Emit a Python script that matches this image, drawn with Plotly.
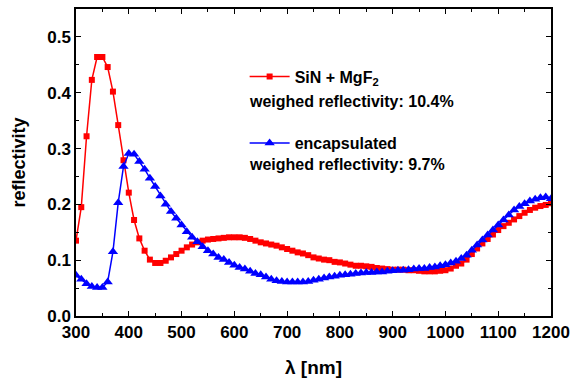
import plotly.graph_objects as go

wavelength = list(range(300, 1201, 10))

sin_mgf2 = [
    0.135, 0.195, 0.322, 0.423, 0.464, 0.464, 0.446, 0.402, 0.342, 0.279,
    0.221, 0.172, 0.139, 0.117, 0.101, 0.095, 0.095, 0.099, 0.105, 0.111,
    0.117, 0.123, 0.128, 0.132, 0.135, 0.137, 0.138, 0.139, 0.140, 0.141,
    0.141, 0.141, 0.140, 0.138, 0.135, 0.132, 0.130, 0.128, 0.126, 0.123,
    0.120, 0.117, 0.114, 0.112, 0.109, 0.105, 0.103, 0.101, 0.100, 0.097,
    0.096, 0.094, 0.092, 0.090, 0.090, 0.089, 0.088, 0.086, 0.085, 0.084,
    0.083, 0.083, 0.083, 0.082, 0.082, 0.081, 0.080, 0.080, 0.080, 0.081,
    0.082, 0.085, 0.090, 0.094, 0.101, 0.111, 0.121, 0.130, 0.138, 0.146,
    0.154, 0.161, 0.167, 0.173, 0.179, 0.185, 0.190, 0.194, 0.197, 0.199,
    0.202,
]

encapsulated = [
    0.073, 0.066, 0.058, 0.053, 0.051, 0.051, 0.061, 0.115, 0.203, 0.268,
    0.291, 0.290, 0.277, 0.263, 0.247, 0.232, 0.215, 0.200, 0.187, 0.175,
    0.163, 0.151, 0.141, 0.133, 0.124, 0.117, 0.111, 0.105, 0.101, 0.096,
    0.091, 0.087, 0.084, 0.080, 0.076, 0.074, 0.070, 0.066, 0.063, 0.062,
    0.061, 0.061, 0.061, 0.061, 0.062, 0.064, 0.066, 0.068, 0.070, 0.071,
    0.073, 0.074, 0.075, 0.076, 0.077, 0.078, 0.078, 0.079, 0.079, 0.080,
    0.081, 0.082, 0.082, 0.083, 0.084, 0.085, 0.085, 0.087, 0.088, 0.090,
    0.092, 0.095, 0.098, 0.103, 0.109, 0.118, 0.127, 0.136, 0.145, 0.154,
    0.163, 0.172, 0.181, 0.190, 0.196, 0.201, 0.206, 0.209, 0.212, 0.213,
    0.210,
]

x_ticks = [300, 400, 500, 600, 700, 800, 900, 1000, 1100, 1200]
y_ticks = [0.0, 0.1, 0.2, 0.3, 0.4, 0.5]

FONT = "Liberation Sans, Arial, sans-serif"

fig = go.Figure()
fig.add_trace(go.Scatter(
    x=wavelength, y=sin_mgf2, mode="lines+markers",
    name="SiN + MgF<sub>2</sub>",
    line=dict(color="#ff0000", width=1.5),
    marker=dict(symbol="square", size=6, color="#ff0000"),
    legend="legend",
))
fig.add_trace(go.Scatter(
    x=wavelength, y=encapsulated, mode="lines+markers",
    name="encapsulated",
    line=dict(color="#0000ff", width=1.5),
    marker=dict(symbol="triangle-up", size=9, color="#0000ff"),
    legend="legend2",
))

axis_common = dict(
    showline=True, linecolor="black", linewidth=1.5, mirror="ticks",
    ticks="inside", ticklen=5, tickwidth=1.2, tickcolor="black",
    showgrid=False, zeroline=False, automargin=False,
    tickfont=dict(family=FONT, size=17, color="black", weight="bold"),
)

fig.update_layout(
    width=571, height=378,
    margin=dict(l=76, r=20, t=9, b=62),
    plot_bgcolor="white", paper_bgcolor="white",
    font=dict(family=FONT, color="black", weight="bold"),
    xaxis=dict(
        range=[300, 1200], tickvals=x_ticks,
        minor=dict(dtick=50, ticks="inside", ticklen=3, tickcolor="black", tickwidth=1),
        title=dict(text="λ [nm]", font=dict(family=FONT, size=19, weight="bold"), standoff=20),
        **axis_common,
    ),
    yaxis=dict(
        range=[0, 0.55], tickvals=y_ticks, tickformat=".1f",
        minor=dict(dtick=0.05, ticks="inside", ticklen=3, tickcolor="black", tickwidth=1),
        title=dict(text="reflectivity", font=dict(family=FONT, size=18, weight="bold"), standoff=17),
        **axis_common,
    ),
    legend=dict(
        x=0.355, y=0.780, xanchor="left", yanchor="middle",
        bgcolor="rgba(0,0,0,0)", borderwidth=0,
        font=dict(family=FONT, size=16, color="black", weight="bold"),
        itemwidth=40,
    ),
    legend2=dict(
        x=0.355, y=0.5635, xanchor="left", yanchor="middle",
        bgcolor="rgba(0,0,0,0)", borderwidth=0,
        font=dict(family=FONT, size=16, color="black", weight="bold"),
        itemwidth=40,
    ),
    showlegend=True,
)

fig.add_annotation(
    text="weighed reflectivity: 10.4%", xref="paper", yref="paper",
    x=0.359, y=0.698, xanchor="left", yanchor="middle", showarrow=False,
    font=dict(family=FONT, size=16, color="black", weight="bold"),
)
fig.add_annotation(
    text="weighed reflectivity: 9.7%", xref="paper", yref="paper",
    x=0.359, y=0.492, xanchor="left", yanchor="middle", showarrow=False,
    font=dict(family=FONT, size=16, color="black", weight="bold"),
)

fig.write_html("out.html")
